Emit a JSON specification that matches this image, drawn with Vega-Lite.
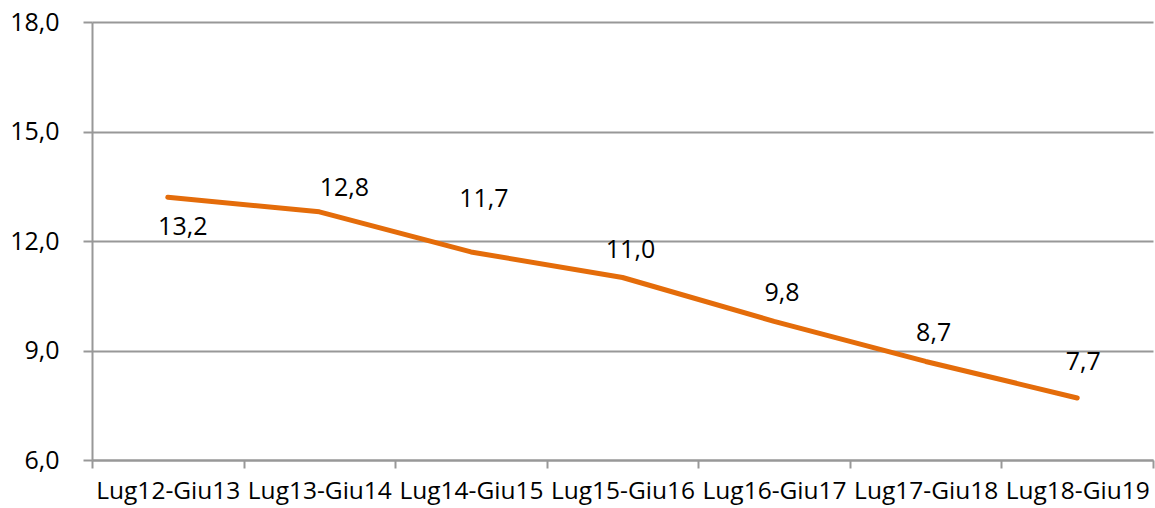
{
  "$schema": "https://vega.github.io/schema/vega-lite/v6.json",
  "width": 1061,
  "height": 438,
  "autosize": {"type": "none"},
  "padding": {"left": 92, "top": 22, "right": 2, "bottom": 48},
  "background": "white",
  "config": {
    "view": {"stroke": null},
    "font": "Open Sans",
    "locale": {"number": {"decimal": ",", "thousands": ".", "grouping": [3], "currency": ["€", ""]}}
  },
  "data": {
    "values": [
      {"periodo": "Lug12-Giu13", "valore": 13.2},
      {"periodo": "Lug13-Giu14", "valore": 12.8},
      {"periodo": "Lug14-Giu15", "valore": 11.7},
      {"periodo": "Lug15-Giu16", "valore": 11.0},
      {"periodo": "Lug16-Giu17", "valore": 9.8},
      {"periodo": "Lug17-Giu18", "valore": 8.7},
      {"periodo": "Lug18-Giu19", "valore": 7.7}
    ]
  },
  "encoding": {
    "x": {
      "field": "periodo", "type": "nominal", "sort": null,
      "scale": {"type": "band", "paddingInner": 0, "paddingOuter": 0},
      "axis": {
        "title": null, "labelAngle": 0, "labelFontSize": 24.5, "labelColor": "#000000",
        "labelFont": "Open Sans", "tickBand": "extent", "tickSize": 8, "tickColor": "#989898",
        "tickWidth": 2, "domainColor": "#989898", "domainWidth": 2, "labelPadding": 11, "grid": false
      }
    },
    "y": {
      "field": "valore", "type": "quantitative",
      "scale": {"domain": [6, 18], "nice": false, "zero": false},
      "axis": {
        "title": null, "values": [6, 9, 12, 15, 18], "format": ".1f", "labelFontSize": 25,
        "labelColor": "#000000", "labelFont": "Open Sans", "tickSize": 9, "tickColor": "#989898",
        "tickWidth": 2, "domainColor": "#989898", "domainWidth": 2, "labelPadding": 24,
        "grid": true, "gridColor": "#989898", "gridWidth": 2
      }
    }
  },
  "layer": [
    {"mark": {"type": "line", "color": "#E46C0A", "strokeWidth": 5, "strokeCap": "round", "strokeJoin": "round"}},
    {
      "transform": [{"filter": "datum.periodo === 'Lug12-Giu13'"}],
      "mark": {"type": "text", "fontSize": 25, "dx": 15, "dy": 30, "baseline": "middle", "color": "#000000"},
      "encoding": {"text": {"field": "valore", "type": "quantitative", "format": ".1f"}}
    },
    {
      "transform": [{"filter": "datum.periodo === 'Lug13-Giu14'"}],
      "mark": {"type": "text", "fontSize": 25, "dx": 25, "dy": -24, "baseline": "middle", "color": "#000000"},
      "encoding": {"text": {"field": "valore", "type": "quantitative", "format": ".1f"}}
    },
    {
      "transform": [{"filter": "datum.periodo === 'Lug14-Giu15'"}],
      "mark": {"type": "text", "fontSize": 25, "dx": 13, "dy": -53, "baseline": "middle", "color": "#000000"},
      "encoding": {"text": {"field": "valore", "type": "quantitative", "format": ".1f"}}
    },
    {
      "transform": [{"filter": "datum.periodo === 'Lug18-Giu19'"}],
      "mark": {"type": "text", "fontSize": 25, "dx": 6, "dy": -36, "baseline": "middle", "color": "#000000"},
      "encoding": {"text": {"field": "valore", "type": "quantitative", "format": ".1f"}}
    },
    {
      "transform": [{"filter": "indexof(['Lug15-Giu16','Lug16-Giu17','Lug17-Giu18'], datum.periodo) >= 0"}],
      "mark": {"type": "text", "fontSize": 25, "dx": 8, "dy": -28, "baseline": "middle", "color": "#000000"},
      "encoding": {"text": {"field": "valore", "type": "quantitative", "format": ".1f"}}
    }
  ]
}
